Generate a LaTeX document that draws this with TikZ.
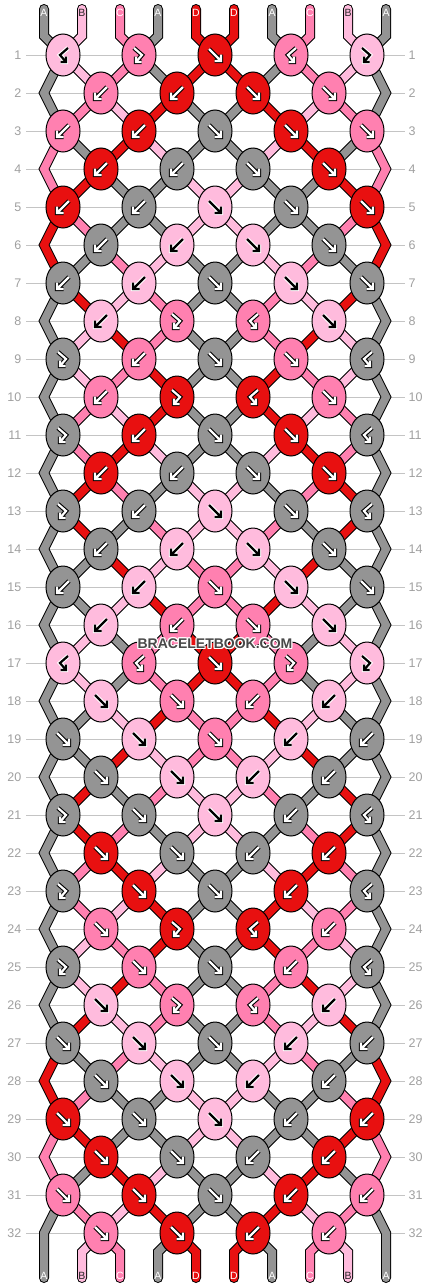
\documentclass[tikz,border=0pt]{standalone}
\usepackage{fontspec}
\setmainfont{Liberation Sans}
\usetikzlibrary{shapes.geometric}
\definecolor{cA}{HTML}{949494}
\definecolor{cB}{HTML}{FFBBDD}
\definecolor{cC}{HTML}{FF80B0}
\definecolor{cD}{HTML}{E81010}
\colorlet{fgA}{white}\colorlet{fgB}{black}\colorlet{fgC}{white}\colorlet{fgD}{white}
\colorlet{bgA}{black}\colorlet{bgB}{white}\colorlet{bgC}{black}\colorlet{bgD}{black}
\colorlet{tlA}{white}\colorlet{tlB}{black!85}\colorlet{tlC}{white}\colorlet{tlD}{white}
\definecolor{guidecol}{HTML}{C4C4C4}
\definecolor{labcol}{HTML}{A0A0A0}
\definecolor{wmcol}{HTML}{484848}
\begin{document}
\begin{tikzpicture}[x=1pt,y=-1pt,
  strand/.style={draw=black,line width=1pt,double=#1,double distance=8pt,line join=miter,line cap=butt},
  endstrand/.style={strand=#1,line cap=round},
  knot/.style={ellipse,draw=black,line width=1pt,minimum width=34pt,minimum height=42pt,inner sep=0pt},
  glyphout/.style={draw=#1,line width=4.4pt,line cap=square,line join=miter},
  glyphin/.style={draw=#1,line width=2.2pt,line cap=butt,line join=miter},
  guide/.style={draw=guidecol,line width=1pt},
  rowlab/.style={text=labcol,inner sep=0pt,font=\fontsize{12.5}{12.5}\selectfont},
  endlab/.style={inner sep=0pt,font=\fontsize{10.5}{10.5}\selectfont},
  wm/.style={inner sep=0pt,font=\fontsize{14}{14}\selectfont\bfseries}
]
\useasboundingbox (0,0) rectangle (430,1288);
\fill[white] (0,0) rectangle (430,1288);

% rows: guide lines, labels, string positions
\foreach \rw in {1,...,32}{
  \pgfmathsetmacro\yy{17+38*\rw}
  \draw[guide] (26,\yy) -- (405,\yy);
  \node[rowlab,anchor=east] (L-\rw) at (21.5,\yy) {\rw};
  \node[rowlab,anchor=west] (R-\rw) at (408.5,\yy) {\rw};
  \foreach \pp in {0,...,9}{
    \ifodd\rw\relax
      \pgfmathsetmacro\xx{63+76*floor(\pp/2)}
    \else
      \pgfmathsetmacro\xx{\pp==0 ? 44 : (\pp==9 ? 386 : 101+76*floor((\pp-1)/2))}
    \fi
    \coordinate (P-\rw-\pp) at (\xx,\yy);
  }
}
\foreach \pp in {0,...,9}{
  \pgfmathsetmacro\xx{44+38*\pp}
  \coordinate (Top-\pp) at (\xx,9);
  \coordinate (Tm-\pp) at (\xx,36);
  \coordinate (Bm-\pp) at (\xx,1252);
  \coordinate (Bot-\pp) at (\xx,1278);
}

% top string ends
\foreach \col [count=\pp from 0] in {A,B,C,A,D,D,A,C,B,A}{
  \draw[endstrand=c\col] (Top-\pp) -- (Tm-\pp) -- (P-1-\pp);
}
% bottom string ends
\foreach \col [count=\pp from 0] in {A,B,C,A,D,D,A,C,B,A}{
  \ifnum\pp=0
    \draw[endstrand=c\col] (P-31-0) -- (P-32-0) -- (Bot-0);
  \else\ifnum\pp=9
    \draw[endstrand=c\col] (P-31-9) -- (P-32-9) -- (Bot-9);
  \else
    \draw[endstrand=c\col] (P-32-\pp) -- (Bm-\pp) -- (Bot-\pp);
  \fi\fi
}

% strands between rows (state after row \rw)
\foreach \rw/\st in {
 1/{A,B,C,A,D,D,A,C,B,A}, 2/{A,C,B,D,A,A,D,B,C,A}, 3/{C,A,D,B,A,A,B,D,A,C},
 4/{C,D,A,A,B,B,A,A,D,C}, 5/{D,C,A,A,B,B,A,A,C,D}, 6/{D,A,C,B,A,A,B,C,A,D},
 7/{A,D,B,C,A,A,C,B,D,A}, 8/{A,B,D,C,A,A,C,D,B,A}, 9/{A,B,C,D,A,A,D,C,B,A},
 10/{A,C,B,D,A,A,D,B,C,A}, 11/{A,C,D,B,A,A,B,D,C,A}, 12/{A,D,C,A,B,B,A,C,D,A},
 13/{A,D,A,C,B,B,C,A,D,A}, 14/{A,A,D,B,C,C,B,D,A,A}, 15/{A,A,B,D,C,C,D,B,A,A},
 16/{A,B,A,C,D,D,C,A,B,A}, 17/{A,B,A,C,D,D,C,A,B,A}, 18/{A,A,B,D,C,C,D,B,A,A},
 19/{A,A,D,B,C,C,B,D,A,A}, 20/{A,D,A,C,B,B,C,A,D,A}, 21/{A,D,C,A,B,B,A,C,D,A},
 22/{A,C,D,B,A,A,B,D,C,A}, 23/{A,C,B,D,A,A,D,B,C,A}, 24/{A,B,C,D,A,A,D,C,B,A},
 25/{A,B,D,C,A,A,C,D,B,A}, 26/{A,D,B,C,A,A,C,B,D,A}, 27/{D,A,C,B,A,A,B,C,A,D},
 28/{D,C,A,A,B,B,A,A,C,D}, 29/{C,D,A,A,B,B,A,A,D,C}, 30/{C,A,D,B,A,A,B,D,A,C},
 31/{A,C,B,D,A,A,D,B,C,A}}{
  \pgfmathtruncatemacro\rn{\rw+1}
  \pgfmathtruncatemacro\rnn{\rw+2}
  \foreach \col [count=\pp from 0] in \st {
    \ifnum\pp=0 \def\isedge{1}\else\ifnum\pp=9 \def\isedge{1}\else\def\isedge{0}\fi\fi
    \ifnum\isedge=1
      \ifodd\rw\relax
        \ifnum\rw<31
          \draw[strand=c\col] (P-\rw-\pp) -- (P-\rn-\pp) -- (P-\rnn-\pp);
        \fi
      \fi
    \else
      \draw[strand=c\col] (P-\rw-\pp) -- (P-\rn-\pp);
    \fi
  }
}

% knots: hooked/xscale/colour
\foreach \rw/\ks in {
 1/{1/-1/B,1/1/C,0/1/D,1/-1/C,1/1/B},
 2/{0/-1/C,0/-1/D,0/1/D,0/1/C},
 3/{0/-1/C,0/-1/D,0/1/A,0/1/D,0/1/C},
 4/{0/-1/D,0/-1/A,0/1/A,0/1/D},
 5/{0/-1/D,0/-1/A,0/1/B,0/1/A,0/1/D},
 6/{0/-1/A,0/-1/B,0/1/B,0/1/A},
 7/{0/-1/A,0/-1/B,0/1/A,0/1/B,0/1/A},
 8/{0/-1/B,1/1/C,1/-1/C,0/1/B},
 9/{1/1/A,0/-1/C,0/1/A,0/1/C,1/-1/A},
 10/{0/-1/C,1/1/D,1/-1/D,0/1/C},
 11/{1/1/A,0/-1/D,0/1/A,0/1/D,1/-1/A},
 12/{0/-1/D,0/-1/A,0/1/A,0/1/D},
 13/{1/1/A,0/-1/A,0/1/B,0/1/A,1/-1/A},
 14/{0/-1/A,0/-1/B,0/1/B,0/1/A},
 15/{0/-1/A,0/-1/B,0/1/C,0/1/B,0/1/A},
 16/{0/-1/B,0/-1/C,0/1/C,0/1/B},
 17/{1/-1/B,1/-1/C,0/1/D,1/1/C,1/1/B},
 18/{0/1/B,0/1/C,0/-1/C,0/-1/B},
 19/{0/1/A,0/1/B,0/1/C,0/-1/B,0/-1/A},
 20/{0/1/A,0/1/B,0/-1/B,0/-1/A},
 21/{1/1/A,0/1/A,0/1/B,0/-1/A,1/-1/A},
 22/{0/1/D,0/1/A,0/-1/A,0/-1/D},
 23/{1/1/A,0/1/D,0/1/A,0/-1/D,1/-1/A},
 24/{0/1/C,1/1/D,1/-1/D,0/-1/C},
 25/{1/1/A,0/1/C,0/1/A,0/-1/C,1/-1/A},
 26/{0/1/B,1/1/C,1/-1/C,0/-1/B},
 27/{0/1/A,0/1/B,0/1/A,0/-1/B,0/-1/A},
 28/{0/1/A,0/1/B,0/-1/B,0/-1/A},
 29/{0/1/D,0/1/A,0/1/B,0/-1/A,0/-1/D},
 30/{0/1/D,0/1/A,0/-1/A,0/-1/D},
 31/{0/1/C,0/1/D,0/1/A,0/-1/D,0/-1/C},
 32/{0/1/C,0/1/D,0/-1/D,0/-1/C}}{
  \foreach \hk/\sx/\col [count=\kk] in \ks {
    \ifodd\rw\relax
      \pgfmathtruncatemacro\pp{2*(\kk-1)}
    \else
      \pgfmathtruncatemacro\pp{2*\kk-1}
    \fi
    \node[knot,fill=c\col] (K-\rw-\kk) at (P-\rw-\pp) {};
    \begin{scope}[shift={(P-\rw-\pp)},xscale=\sx]
      \ifnum\hk=0
        \draw[glyphout=bg\col] (-6,-6) -- (6,6) (6,-0.5) -- (6,6) -- (-0.5,6);
        \draw[glyphin=fg\col] (-6,-6) -- (6,6) (6,-0.5) -- (6,6) -- (-0.5,6);
      \else
        \draw[glyphout=bg\col] (-5,-7) -- (3,0) -- (-3,7) (-3,1.5) -- (-3,7) -- (2.5,7);
        \draw[glyphin=fg\col] (-5,-7) -- (3,0) -- (-3,7) (-3,1.5) -- (-3,7) -- (2.5,7);
      \fi
    \end{scope}
  }
}

% end letters
\foreach \col [count=\pp from 0] in {A,B,C,A,D,D,A,C,B,A}{
  \pgfmathsetmacro\xx{44+38*\pp}
  \node[endlab,text=tl\col] (TL-\pp) at (\xx,12.5) {\col};
  \node[endlab,text=tl\col] (BL-\pp) at (\xx,1275.5) {\col};
}

% watermark
\foreach \dx/\dy [count=\ii] in {-1/0,1/0,0/-1,0/1,-1/-1,1/1,-1/1,1/-1}{
  \node[wm,text=white] (WH-\ii) at ({215+(\dx)},{644+(\dy)}) {BRACELETBOOK.COM};
}
\node[wm,text=wmcol] (WM) at (215,644) {BRACELETBOOK.COM};
\end{tikzpicture}
\end{document}
